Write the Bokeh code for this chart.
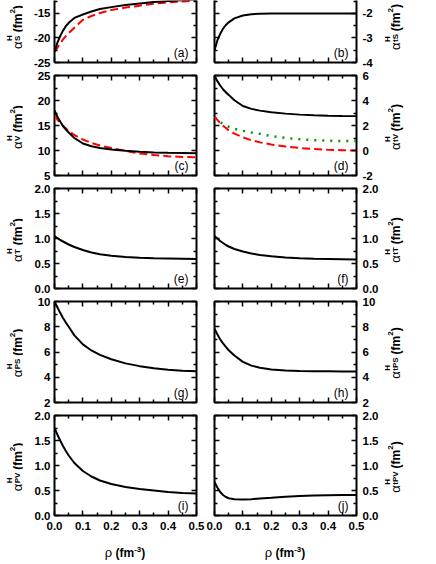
from bokeh.plotting import figure
from bokeh.layouts import column, row
from bokeh.models import Range1d, LinearAxis, Label, FixedTicker, PrintfTickFormatter, Div
from bokeh.embed import file_html
from bokeh.resources import INLINE

# ---------------- data ----------------
rho = [0.0, 0.01, 0.02, 0.03, 0.04, 0.05, 0.07, 0.10, 0.13, 0.16, 0.20, 0.25, 0.30, 0.35, 0.40, 0.45, 0.50]

a_black = [-22.8, -21.0, -19.6, -18.5, -17.6, -16.9, -15.9, -15.2, -14.6, -14.1, -13.7, -13.25, -12.95, -12.65, -12.45, -12.3, -12.2]
a_red = [-22.8, -22.0, -21.1, -20.3, -19.6, -19.0, -17.9, -16.3, -15.5, -14.9, -14.3, -13.8, -13.4, -13.0, -12.75, -12.55, -12.4]

b_black = [-3.5, -3.1, -2.83, -2.62, -2.47, -2.36, -2.2, -2.08, -2.03, -2.01, -2.0, -2.0, -2.0, -2.0, -2.0, -2.0, -2.0]

c_black = [18.0, 16.8, 15.8, 14.9, 14.2, 13.6, 12.5, 11.4, 10.85, 10.5, 10.2, 9.95, 9.75, 9.62, 9.55, 9.5, 9.45]
c_red = [17.0, 16.2, 15.5, 14.9, 14.4, 13.9, 13.1, 12.2, 11.5, 11.0, 10.5, 9.95, 9.4, 9.1, 8.85, 8.72, 8.65]

d_black = [6.0, 5.55, 5.2, 4.9, 4.65, 4.45, 4.02, 3.56, 3.33, 3.19, 3.06, 2.95, 2.87, 2.82, 2.78, 2.76, 2.75]
d_red = [2.7, 2.45, 2.2, 1.98, 1.8, 1.62, 1.35, 1.05, 0.82, 0.65, 0.48, 0.32, 0.2, 0.12, 0.06, 0.02, 0.0]
d_green = [2.65, 2.45, 2.27, 2.12, 2.0, 1.9, 1.74, 1.57, 1.44, 1.33, 1.15, 1.0, 0.9, 0.82, 0.78, 0.76, 0.75]

e_black = [1.05, 1.01, 0.97, 0.94, 0.91, 0.88, 0.83, 0.77, 0.72, 0.685, 0.655, 0.63, 0.615, 0.605, 0.6, 0.595, 0.59]
f_black = [1.05, 1.0, 0.95, 0.91, 0.87, 0.84, 0.79, 0.74, 0.7, 0.67, 0.645, 0.62, 0.605, 0.595, 0.59, 0.585, 0.58]
g_black = [10.0, 9.55, 9.1, 8.7, 8.33, 8.0, 7.32, 6.6, 6.12, 5.77, 5.43, 5.1, 4.88, 4.72, 4.6, 4.52, 4.47]
h_black = [7.85, 7.4, 7.0, 6.68, 6.4, 6.14, 5.72, 5.22, 4.92, 4.75, 4.62, 4.54, 4.5, 4.48, 4.47, 4.46, 4.46]
i_black = [1.75, 1.62, 1.5, 1.39, 1.29, 1.2, 1.05, 0.89, 0.78, 0.7, 0.63, 0.57, 0.53, 0.5, 0.47, 0.45, 0.44]
j_black = [0.67, 0.56, 0.47, 0.41, 0.37, 0.345, 0.325, 0.32, 0.325, 0.34, 0.355, 0.375, 0.39, 0.4, 0.405, 0.41, 0.41]

x_ticks = [0.0, 0.1, 0.2, 0.3, 0.4, 0.5]
x_minor = [0.05, 0.15, 0.25, 0.35, 0.45]

FONT = "Liberation Sans"
TICK_FS = "11.5px"
FRAME_W = 142
DIV_L = 22
DIV_R = 26


def style_axis(ax, labels, standoff=4):
    ax.major_tick_in = 5
    ax.major_tick_out = 0
    ax.minor_tick_in = 3
    ax.minor_tick_out = 0
    ax.major_tick_line_width = 1.5
    ax.minor_tick_line_width = 1.5
    ax.major_tick_line_color = "black"
    ax.minor_tick_line_color = "black"
    if labels:
        ax.major_label_text_font = FONT
        ax.major_label_text_font_style = "bold"
        ax.major_label_text_font_size = TICK_FS
        ax.major_label_text_color = "black"
        ax.major_label_standoff = standoff
    else:
        ax.major_label_text_color = None
        ax.major_label_standoff = 0


def make_panel(side, ylim, yticks, yminor, yfmt, frame_h, b_top, b_bottom, bottom_row,
               letter, open_top=False):
    if side == "left":
        bl, br = 32, 9
    else:
        bl, br = 9, 27
    W = bl + FRAME_W + br
    H = b_top + frame_h + b_bottom
    p = figure(width=W, height=H, x_range=Range1d(0, 0.5), y_range=Range1d(*ylim),
               output_backend="svg", toolbar_location=None,
               x_axis_location=None, y_axis_location=None,
               min_border_left=bl, min_border_right=br, min_border_top=b_top,
               min_border_bottom=b_bottom, background_fill_color="white",
               border_fill_color="white")
    p.xgrid.visible = False
    p.ygrid.visible = False
    if open_top:
        p.outline_line_color = None
    else:
        p.outline_line_color = "black"
        p.outline_line_width = 2

    def xaxis(labels):
        ax = LinearAxis(ticker=FixedTicker(ticks=x_ticks, minor_ticks=x_minor),
                        formatter=PrintfTickFormatter(format="%.1f"))
        style_axis(ax, labels, standoff=6)
        return ax

    def yaxis(labels):
        ax = LinearAxis(ticker=FixedTicker(ticks=yticks, minor_ticks=yminor),
                        formatter=PrintfTickFormatter(format=yfmt))
        style_axis(ax, labels, standoff=4 if side == "left" else 6)
        return ax

    axb = xaxis(bottom_row)
    axl = yaxis(side == "left")
    axr = yaxis(side == "right")
    for ax in (axb, axl, axr):
        if open_top:
            ax.axis_line_color = "black"
            ax.axis_line_width = 2
        else:
            ax.axis_line_color = None
    p.add_layout(axb, "below")
    p.add_layout(axl, "left")
    p.add_layout(axr, "right")
    if not open_top:
        axt = xaxis(False)
        axt.axis_line_color = None
        p.add_layout(axt, "above")

    p.add_layout(Label(x=FRAME_W - 8, y=3, x_units="screen", y_units="screen", text=f"({letter})",
                       text_align="right", text_baseline="bottom", text_font=FONT,
                       text_font_size="12px", text_color="black"))
    return p


def ylabel_div(sub, width, height, cx, cy):
    inner = (
        f'<div style="position:absolute;left:{cx}px;top:{cy}px;'
        'transform:translate(-50%,-50%) rotate(180deg);writing-mode:vertical-rl;'
        f"white-space:nowrap;font-family:'{FONT}';font-weight:bold;font-size:12px;"
        'line-height:12px;color:black;">'
        '<span style="font-weight:normal;font-size:13px">α</span>'
        '<span style="display:inline-block;font-size:8px;line-height:8px;'
        f'vertical-align:middle;text-align:left">H<br>{sub}</span>'
        '&nbsp;(fm<sup style="font-size:8px;line-height:8px">2</sup>)</div>'
    )
    html = f'<div style="position:relative;width:{width}px;height:{height}px;">{inner}</div>'
    return Div(text=html, width=width, height=height, margin=0)


def xlabel_html(cx, cy):
    return (
        f'<div style="position:absolute;left:{cx}px;top:{cy}px;transform:translate(-50%,-50%);'
        f"white-space:nowrap;font-family:'{FONT}';font-weight:bold;font-size:12px;"
        'line-height:12px;color:black;">'
        '<span style="font-weight:normal;font-size:13px">ρ</span>&nbsp;(fm'
        '<sup style="font-size:8px;line-height:8px">-3</sup>)</div>'
    )


def black(p, ys):
    p.line(rho, ys, line_color="black", line_width=2)


def red(p, ys):
    p.line(rho, ys, line_color="#ff0000", line_width=2, line_dash="8 4")


def green(p, ys):
    p.line(rho, ys, line_color="#009900", line_width=2.5, line_dash="2 6")


# row 1 (cropped at the top of the picture)
pa = make_panel("left", (-25, -12.35), [-25, -20, -15, -10, -5], [-22.5, -17.5, -12.5, -7.5], "%d",
                62, 0, 8, False, "a", open_top=True)
red(pa, a_red)
black(pa, a_black)
pb = make_panel("right", (-4, -1.47), [-4, -3, -2, -1, 0], [-3.5, -2.5, -1.5, -0.5], "%d",
                62, 0, 8, False, "b", open_top=True)
black(pb, b_black)

pc = make_panel("left", (5, 25), [5, 10, 15, 20, 25], [7.5, 12.5, 17.5, 22.5], "%d",
                100, 5, 8, False, "c")
red(pc, c_red)
black(pc, c_black)
pd = make_panel("right", (-2, 6), [-2, 0, 2, 4, 6], [-1, 1, 3, 5], "%d",
                100, 5, 8, False, "d")
black(pd, d_black)
green(pd, d_green)
red(pd, d_red)

pe = make_panel("left", (0, 2), [0, 0.5, 1.0, 1.5, 2.0], [0.25, 0.75, 1.25, 1.75], "%.1f",
                100, 5, 8, False, "e")
black(pe, e_black)
pf = make_panel("right", (0, 2), [0, 0.5, 1.0, 1.5, 2.0], [0.25, 0.75, 1.25, 1.75], "%.1f",
                100, 5, 8, False, "f")
black(pf, f_black)

pg = make_panel("left", (2, 10), [2, 4, 6, 8, 10], [3, 5, 7, 9], "%d",
                101, 5, 8, False, "g")
black(pg, g_black)
ph = make_panel("right", (2, 10), [2, 4, 6, 8, 10], [3, 5, 7, 9], "%d",
                101, 5, 8, False, "h")
black(ph, h_black)

pi_ = make_panel("left", (0, 2), [0, 0.5, 1.0, 1.5, 2.0], [0.25, 0.75, 1.25, 1.75], "%.1f",
                 100, 5, 22, True, "i")
black(pi_, i_black)
pj = make_panel("right", (0, 2), [0, 0.5, 1.0, 1.5, 2.0], [0.25, 0.75, 1.25, 1.75], "%.1f",
                100, 5, 22, True, "j")
black(pj, j_black)

rows = []
specs = [(pa, pb, "S", "tS", 27), (pc, pd, "V", "tV", 57), (pe, pf, "T", "tT", 57),
         (pg, ph, "PS", "tPS", 57), (pi_, pj, "PV", "tPV", 57)]
for pl, pr, sl, sr, cy in specs:
    h = pl.height
    rows.append(row(ylabel_div(sl, DIV_L, h, 15, cy), pl, pr, ylabel_div(sr, DIV_R, h, 10, cy)))

xl_w = DIV_L + pa.width + pb.width + DIV_R
xl_html = ('<div style="position:relative;width:%dpx;height:27px;">' % xl_w
           + xlabel_html(125, 15) + xlabel_html(285, 15) + '</div>')
rows.append(Div(text=xl_html, width=xl_w, height=27, margin=0))

layout = column(*rows)

open("out.html", "w").write(file_html(layout, INLINE))
